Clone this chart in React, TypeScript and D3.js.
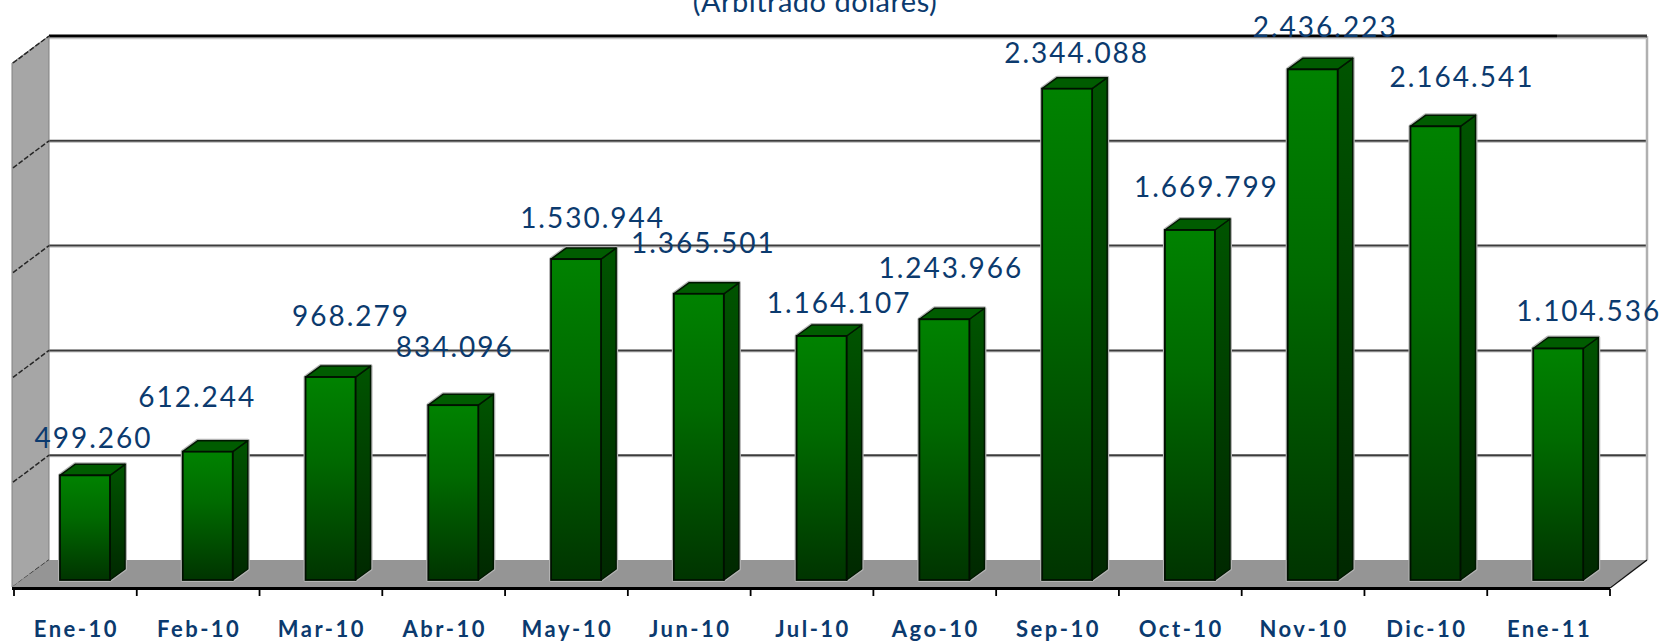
import React from 'react';
import * as d3 from 'd3';

// ---- data ----
const categories = ['Ene-10', 'Feb-10', 'Mar-10', 'Abr-10', 'May-10', 'Jun-10', 'Jul-10', 'Ago-10', 'Sep-10', 'Oct-10', 'Nov-10', 'Dic-10', 'Ene-11'];
const values = [499260, 612244, 968279, 834096, 1530944, 1365501, 1164107, 1243966, 2344088, 1669799, 2436223, 2164541, 1104536];
const yTicks = [0, 500000, 1000000, 1500000, 2000000, 2500000];
const titleText = '(Arbitrado dólares)';
// relative label nudges (px) as placed in the original
const labelNudges: [number, number][] = [[0, 2], [-19, -16], [12, -22], [-7, -19], [8, -2], [-4, -12], [9, 6], [-2, -12], [1, 3], [8, -4], [4, -3], [18, -10], [22, 2]];

const fmt = d3.formatLocale({ decimal: ',', thousands: '.', grouping: [3], currency: ['', ''] }).format(',d');

const W = 1663;
const H = 644;
const floorFrontY = 587;
const wallDepth = 27;
const slant = 37 / 27;
const leftX = 12;
const plotH = 524;
const d1 = 7;
const d2 = 18;
const textColor = '#0b3a6e';
const font = 'Lato, "Open Sans", sans-serif';

export default function App() {
  const x = d3.scaleBand<string>().domain(categories).range([14, 1610]).paddingInner(0).paddingOuter(0);
  const h = d3.scaleLinear().domain([0, d3.max(yTicks) as number]).range([0, plotH]);
  const bw = x.bandwidth();
  const faceW = bw * 0.407;
  const ddx = (d2 - d1) * slant;
  const ddy = d2 - d1;
  const backX0 = leftX + wallDepth * slant;
  const backX1 = 1610 + wallDepth * slant;
  const backY0 = floorFrontY - wallDepth;
  const backTop = backY0 - h(yTicks[yTicks.length - 1]);
  const rightX = x.range()[1];

  const bars = categories.map((cat, i) => {
    const c = (x(cat) as number) + bw / 2;
    const x0 = c + d1 * slant - faceW / 2;
    const x1 = x0 + faceW;
    const yb = floorFrontY - d1;
    const yt = yb - h(values[i]);
    return { cat, i, x0, x1, yb, yt };
  });

  const pts = (arr: number[][]) => arr.map((p) => p.join(',')).join(' ');

  return (
    <svg width={W} height={H} style={{ position: 'absolute', left: 0, top: 0, background: '#fff' }}>
      <defs>
        <linearGradient id="gFront" x1="0" y1="0" x2="0" y2="1">
          <stop offset="0" stopColor="#008200" />
          <stop offset="0.4" stopColor="#006a00" />
          <stop offset="1" stopColor="#003400" />
        </linearGradient>
        <linearGradient id="gSide" x1="0" y1="0" x2="0" y2="1">
          <stop offset="0" stopColor="#005400" />
          <stop offset="1" stopColor="#002800" />
        </linearGradient>
      </defs>
      <rect x={0} y={0} width={W} height={H} fill="#fff" />

      {/* back wall */}
      <rect x={backX0} y={backTop} width={backX1 - backX0} height={backY0 - backTop} fill="#fff" />
      {yTicks.slice(1, -1).map((t) => (
        <g key={'g' + t}>
          <line x1={backX0} x2={backX1} y1={backY0 - h(t) + 1.5} y2={backY0 - h(t) + 1.5} stroke="#c8c8c8" strokeWidth={1.2} />
          <line x1={backX0} x2={backX1} y1={backY0 - h(t)} y2={backY0 - h(t)} stroke="#3c3c3c" strokeWidth={2} />
        </g>
      ))}
      <line x1={backX1} x2={backX1} y1={backTop} y2={backY0} stroke="#b0b0b0" strokeWidth={2.5} />
      <line x1={backX0} x2={backX1} y1={backTop + 2.5} y2={backTop + 2.5} stroke="#c8c8c8" strokeWidth={1.5} />
      <line x1={backX0} x2={backX1 - 90} y1={backTop} y2={backTop} stroke="#000" strokeWidth={3} />
      <line x1={backX1 - 90} x2={backX1} y1={backTop} y2={backTop} stroke="#3a3a3a" strokeWidth={3} />

      {/* left wall */}
      <polygon
        points={pts([[leftX, floorFrontY], [leftX, floorFrontY - plotH], [backX0, backTop], [backX0, backY0]])}
        fill="#a6a6a6"
        stroke="#808080"
        strokeWidth={1}
      />
      {yTicks.map((t) => (
        <line key={'lw' + t} x1={leftX + 1} y1={floorFrontY - h(t)} x2={backX0} y2={backY0 - h(t)} stroke="#262626" strokeWidth={1.5} strokeDasharray="5 2" />
      ))}

      {/* floor */}
      <polygon points={pts([[leftX, floorFrontY], [rightX, floorFrontY], [backX1, backY0], [backX0, backY0]])} fill="#959595" />
      <line x1={rightX} y1={floorFrontY + 1} x2={backX1} y2={backY0} stroke="#111" strokeWidth={1.5} />

      {/* bars */}
      {bars.map((b) => (
        <g key={b.cat}>
          <polygon
            points={pts([[b.x0, b.yb], [b.x0, b.yt], [b.x0 + ddx, b.yt - ddy], [b.x1 + ddx, b.yt - ddy], [b.x1 + ddx, b.yb - ddy], [b.x1, b.yb]])}
            fill="none"
            stroke="#b4b4b4"
            strokeWidth={4}
            strokeLinejoin="round"
          />
          <polygon
            points={pts([[b.x1, b.yt], [b.x1 + ddx, b.yt - ddy], [b.x1 + ddx, b.yb - ddy], [b.x1, b.yb]])}
            fill="url(#gSide)"
            stroke="#001800"
            strokeWidth={1.5}
            strokeLinejoin="round"
          />
          <polygon
            points={pts([[b.x0, b.yt], [b.x0 + ddx, b.yt - ddy], [b.x1 + ddx, b.yt - ddy], [b.x1, b.yt]])}
            fill="#005c00"
            stroke="#001800"
            strokeWidth={1.5}
            strokeLinejoin="round"
          />
          <rect x={b.x0} y={b.yt} width={b.x1 - b.x0} height={b.yb - b.yt} fill="url(#gFront)" stroke="#001000" strokeWidth={1.8} />
        </g>
      ))}

      {/* axis */}
      <line x1={leftX} x2={rightX} y1={floorFrontY + 1.5} y2={floorFrontY + 1.5} stroke="#000" strokeWidth={3} />
      {d3.range(categories.length + 1).map((k) => {
        const tx = x.range()[0] + k * bw;
        return <line key={'t' + k} x1={tx} x2={tx} y1={floorFrontY + 2} y2={floorFrontY + 9} stroke="#000" strokeWidth={1.8} />;
      })}
      {categories.map((cat) => (
        <text
          key={'c' + cat}
          x={(x(cat) as number) + bw / 2 + 1}
          y={637}
          textAnchor="middle"
          fontFamily={font}
          fontWeight={700}
          fontSize={22}
          letterSpacing={2.5}
          fill={textColor}
        >
          {cat}
        </text>
      ))}

      {/* value labels */}
      {bars.map((b) => (
        <text
          key={'v' + b.cat}
          x={(b.x0 + b.x1 + ddx) / 2 + labelNudges[b.i][0] + 1}
          y={b.yt - ddy - 18 + labelNudges[b.i][1]}
          textAnchor="middle"
          fontFamily={font}
          fontSize={28}
          letterSpacing={2}
          fill={textColor}
        >
          {fmt(values[b.i])}
        </text>
      ))}

      {/* title (cropped at the top, as in the original) */}
      <text x={815} y={12} textAnchor="middle" fontFamily={font} fontSize={29} letterSpacing={0.5} fill={textColor}>
        {titleText}
      </text>
    </svg>
  );
}
